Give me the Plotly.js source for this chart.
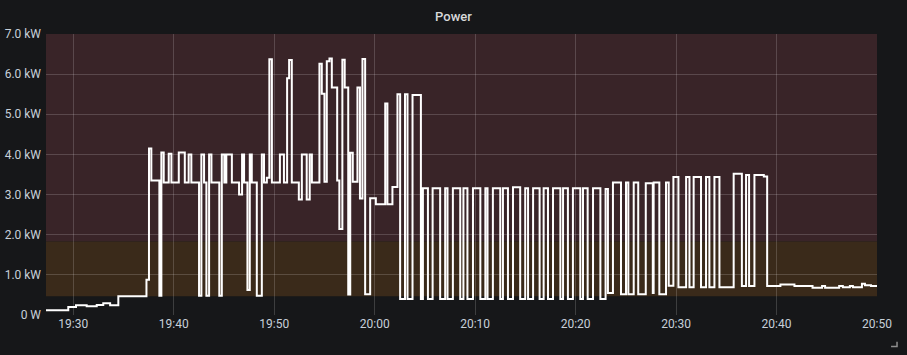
<!DOCTYPE html>
<html>
<head>
<meta charset="utf-8">
<script src="https://cdn.plot.ly/plotly-3.0.1.min.js"></script>
<style>
  html, body { margin: 0; padding: 0; background: #161719; }
  #chart { width: 907px; height: 355px; }
</style>
</head>
<body>
<div id="chart"></div>
<script>
// Minutes past 19:00 at which the power reading changes (step series)
const minutesPast19 = [
  27.28, 29.50, 30.27, 31.33, 32.33, 32.99, 33.66, 34.48, 37.29, 37.54,
  37.77, 38.57, 38.76, 39.00, 39.50, 39.76, 40.50, 41.10, 41.49, 41.75,
  42.52, 42.75, 43.02, 43.25, 43.52, 43.75, 44.54, 44.78, 45.04, 45.24,
  45.78, 46.50, 46.80, 47.00, 47.33, 47.57, 47.77, 48.27, 48.76, 48.99,
  49.26, 49.52, 49.76, 50.56, 50.96, 51.28, 51.48, 51.75, 52.45, 52.75,
  53.23, 53.53, 53.75, 54.50, 54.74, 55.00, 55.24, 55.50, 55.74, 56.27,
  56.49, 56.79, 57.01, 57.36, 57.56, 57.81, 58.29, 58.53, 58.78, 59.05,
  59.55, 60.12, 61.05, 61.27, 61.77, 62.27, 62.54, 63.01, 63.27, 63.76,
  64.60, 64.80, 65.30, 65.76, 66.52, 67.02, 67.25, 67.79, 68.52, 68.84,
  69.24, 69.78, 70.52, 71.01, 71.24, 71.77, 72.50, 72.77, 73.27, 73.76,
  74.49, 74.99, 75.26, 75.76, 76.41, 76.81, 77.25, 77.75, 78.48, 78.75,
  79.24, 79.74, 80.47, 80.74, 81.20, 81.73, 82.46, 82.99, 83.21, 83.71,
  84.52, 85.02, 85.25, 85.78, 86.24, 86.99, 87.69, 87.77, 88.34, 89.00,
  89.26, 89.73, 90.23, 91.00, 91.33, 91.75, 92.49, 92.99, 93.32, 93.82,
  94.31, 95.74, 96.55, 96.97, 97.27, 97.80, 98.73, 99.06, 100.39, 101.78,
  103.58, 104.54, 104.84, 106.23, 106.60, 107.30, 107.60, 108.50, 108.80, 109.40,
  110.00
];

// Power in kW from each change time onward
const powerKW = [
  0.12, 0.20, 0.24, 0.22, 0.25, 0.29, 0.24, 0.47, 0.88, 4.15,
  3.35, 0.48, 4.05, 3.30, 4.02, 3.30, 4.05, 3.30, 4.00, 3.30,
  0.48, 4.00, 3.30, 0.48, 4.00, 3.30, 0.48, 4.00, 3.30, 4.00,
  3.30, 3.00, 4.00, 3.30, 0.62, 4.00, 3.30, 0.48, 4.00, 3.30,
  3.42, 6.37, 3.30, 4.00, 3.30, 5.90, 6.35, 3.30, 2.88, 4.00,
  2.88, 4.00, 3.30, 6.26, 5.51, 3.32, 6.32, 6.39, 5.67, 3.35,
  2.14, 6.36, 5.67, 0.51, 4.04, 3.32, 5.67, 2.90, 6.38, 0.52,
  2.91, 2.76, 5.27, 2.76, 3.19, 5.50, 0.40, 5.50, 0.40, 5.48,
  0.40, 3.16, 0.40, 3.16, 0.40, 3.16, 0.40, 3.16, 0.40, 3.16,
  0.40, 3.16, 0.40, 3.16, 0.40, 3.16, 0.40, 3.16, 0.40, 3.18,
  0.40, 3.16, 0.40, 3.16, 0.40, 3.16, 0.40, 3.16, 0.40, 3.16,
  0.40, 3.16, 0.40, 3.16, 0.40, 3.16, 0.40, 3.14, 0.55, 3.30,
  0.52, 3.30, 0.52, 3.30, 0.52, 3.28, 0.55, 3.30, 0.52, 3.30,
  0.73, 3.44, 0.69, 3.44, 0.69, 3.44, 0.69, 3.44, 0.69, 3.44,
  0.69, 3.52, 0.72, 3.49, 0.72, 3.49, 3.45, 0.72, 0.76, 0.72,
  0.68, 0.72, 0.68, 0.72, 0.69, 0.72, 0.69, 0.78, 0.74, 0.72,
  0.72
];

const yTickVals = [0, 1, 2, 3, 4, 5, 6, 7];
const yTickText = ['0 W', '1.0 kW', '2.0 kW', '3.0 kW', '4.0 kW', '5.0 kW', '6.0 kW', '7.0 kW'];

// threshold bands (kW)
const warnFrom = 0.47, critFrom = 1.83, axisMax = 7;
const rangeStartMin = 27.28, rangeEndMin = 110;

function pad(n) { return (n < 10 ? '0' : '') + n; }
function toTime(m) {
  const totalSec = Math.round(m * 60);
  const h = 19 + Math.floor(totalSec / 3600);
  const mm = Math.floor((totalSec % 3600) / 60);
  const s = totalSec % 60;
  return '2024-01-01 ' + pad(h) + ':' + pad(mm) + ':' + pad(s);
}

const xs = minutesPast19.map(toTime);

const trace = {
  x: xs,
  y: powerKW,
  type: 'scatter',
  mode: 'lines',
  line: { shape: 'hv', color: '#ffffff', width: 2 },
  hoverinfo: 'skip'
};

const gridColor = 'rgba(255,255,255,0.17)';
const fontFamily = 'Roboto, "Open Sans", sans-serif';

const layout = {
  width: 907,
  height: 355,
  paper_bgcolor: '#161719',
  plot_bgcolor: '#161719',
  margin: { l: 46, r: 30, t: 34, b: 39.5, pad: 0 },
  showlegend: false,
  title: {
    text: 'Power',
    x: 0.5, xanchor: 'center',
    y: 0.955, yanchor: 'middle',
    font: { family: fontFamily, size: 13, color: '#d8d9da', weight: 500 }
  },
  xaxis: {
    type: 'date',
    range: [toTime(rangeStartMin), toTime(rangeEndMin)],
    tick0: '2024-01-01 19:30:00',
    dtick: 600000,
    tickformat: '%H:%M',
    showgrid: true,
    gridcolor: gridColor,
    gridwidth: 1,
    zeroline: false,
    showline: false,
    ticks: '',
    tickfont: { family: fontFamily, size: 12, color: '#c7d0d9' },
    fixedrange: true
  },
  yaxis: {
    range: [0, axisMax],
    tickvals: yTickVals,
    ticktext: yTickText,
    showgrid: true,
    gridcolor: gridColor,
    gridwidth: 1,
    zeroline: false,
    showline: false,
    ticks: '',
    ticklabelstandoff: 4,
    tickfont: { family: fontFamily, size: 12, color: '#c7d0d9' },
    fixedrange: true
  },
  shapes: [
    { type: 'rect', xref: 'paper', yref: 'y', x0: 0, x1: 1, y0: critFrom, y1: axisMax,
      fillcolor: '#392428', line: { width: 0 }, layer: 'below' },
    { type: 'rect', xref: 'paper', yref: 'y', x0: 0, x1: 1, y0: warnFrom, y1: critFrom,
      fillcolor: '#3a2a1a', line: { width: 0 }, layer: 'below' },
    { type: 'path', xref: 'paper', yref: 'paper',
      path: 'M 1.0241 -0.095 L 1.0241 -0.112 L 1.0169 -0.112',
      line: { color: '#8e8e8e', width: 1.5 }, layer: 'above' }
  ]
};

Plotly.newPlot('chart', [trace], layout, { displayModeBar: false, staticPlot: true });
</script>
</body>
</html>
